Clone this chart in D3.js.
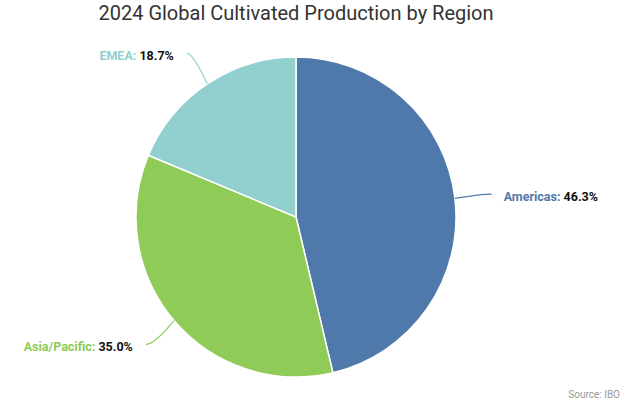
<!DOCTYPE html>
<html><head><meta charset="utf-8">
<script src="https://cdn.jsdelivr.net/npm/d3@7"></script>
<style>html,body{margin:0;padding:0;background:#fff;}svg{display:block;font-family:Roboto,"Noto Sans",sans-serif;}</style>
</head><body>
<svg id="chart" width="630" height="408"></svg>
<script>
const categories = ["Americas", "Asia/Pacific", "EMEA"];
const values = [46.3, 35.0, 18.7];
const colors = ["#4f79aa", "#8fcb57", "#92cfcf"];
const title = "2024 Global Cultivated Production by Region";
const source = "Source: IBO";

const svg = d3.select("#chart");
const W = 630, H = 408;
const cx = 296, cy = 217, R = 160;

svg.append("text").attr("x", 296).attr("y", 20).attr("text-anchor", "middle")
  .attr("font-size", 20).attr("fill", "#333").text(title);

svg.append("text").attr("x", 620).attr("y", 398).attr("text-anchor", "end")
  .attr("font-size", 10).attr("fill", "#999").text(source);

const data = categories.map((c, i) => ({cat: c, val: values[i], color: colors[i]}));
const pie = d3.pie().value(d => d.val).sort(null);
const arcs = pie(data);
const arc = d3.arc().innerRadius(0).outerRadius(R);

const g = svg.append("g").attr("transform", `translate(${cx},${cy})`);
g.selectAll("path.slice").data(arcs).join("path").attr("class", "slice")
  .attr("d", arc).attr("fill", d => d.data.color)
  .attr("stroke", "#fff").attr("stroke-width", 1.5).attr("stroke-linejoin", "round");

const pt = (a, r) => [r * Math.sin(a), -r * Math.cos(a)];
arcs.forEach(d => {
  const mid = (d.startAngle + d.endAngle) / 2;
  const s = pt(mid, R);
  const e = pt(mid, 197);
  const c = pt(mid, 186);
  const right = Math.sin(mid) > 0;
  const path = d3.path();
  path.moveTo(s[0], s[1]);
  path.quadraticCurveTo(c[0], e[1], e[0], e[1]);
  g.append("path").attr("d", path.toString()).attr("fill", "none")
    .attr("stroke", d.data.color).attr("stroke-width", 1.2);
  const tx = e[0] + (right ? 12 : -13);
  const t = g.append("text").attr("x", tx).attr("y", e[1] + 7)
    .attr("text-anchor", right ? "start" : "end")
    .attr("font-size", 12.5).attr("font-weight", "bold");
  t.append("tspan").attr("fill", d.data.color).text(d.data.cat + ": ");
  t.append("tspan").attr("fill", "#111").text(d.data.val.toFixed(1) + "%");
});
</script>
</body></html>
